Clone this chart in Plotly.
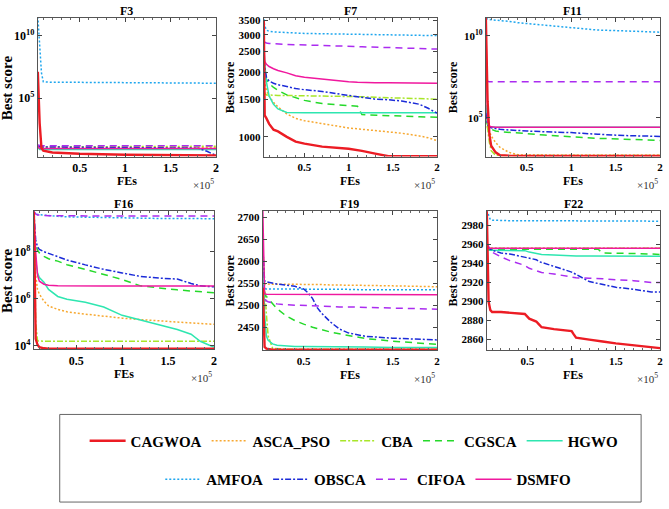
import plotly.graph_objects as go

W, H = 669, 509

ALGOS = ["CAGWOA", "ASCA_PSO", "CBA", "CGSCA", "HGWO", "AMFOA", "OBSCA", "CIFOA", "DSMFO"]
COLORS = ["#ec1c24", "#f7a830", "#a8e629", "#25d92a", "#2ee6b0", "#1ea6ee", "#1b2bd8", "#ab2cf0", "#f0189e"]
DASHES = ["solid", "2px,2px", "6px,2px,2px,2px", "7px,5px", "solid", "2px,2px", "6px,2px,2px,2px", "7px,5px", "solid"]
WIDTHS = [2.4, 1.5, 1.5, 1.5, 1.5, 1.5, 1.5, 1.5, 1.5]

# ---------------- F3 (log scale) ----------------
F3_X = [0.04, 0.06, 0.08, 0.1, 0.2, 0.5, 1.0, 1.5, 1.8, 1.9, 2.0]
F3_CAGWOA = [10**7.1, 10**3.0, 10**1.0, 10**0.8, 10**0.65, 10**0.55, 10**0.48, 10**0.45, 10**0.44, 10**0.43, 10**0.42]
F3_ASCA_PSO = [10**1.15, 10**1.1, 10**1.1, 10**1.1, 10**1.1, 10**1.1, 10**1.08, 10**1.07, 10**1.06, 10**1.05, 10**1.05]
F3_CBA = [10**1.15, 10**1.1, 10**1.1, 10**1.1, 10**1.1, 10**1.1, 10**1.1, 10**1.1, 10**1.12, 10**1.14, 10**1.15]
F3_CGSCA = [10**1.1, 10**0.95, 10**0.95, 10**0.95, 10**0.94, 10**0.94, 10**0.93, 10**0.93, 10**0.93, 10**0.93, 10**0.93]
F3_HGWO = [10**1.05, 10**0.9, 10**0.9, 10**0.9, 10**0.9, 10**0.9, 10**0.9, 10**0.9, 10**0.9, 10**0.9, 10**0.9]
F3_AMFOA = [10**11.5, 10**9.5, 10**7.0, 10**6.3, 10**6.25, 10**6.25, 10**6.22, 10**6.2, 10**6.2, 10**6.19, 10**6.18]
F3_OBSCA = [10**1.15, 10**1.1, 10**1.1, 10**1.1, 10**1.08, 10**1.07, 10**1.05, 10**1.03, 10**1.0, 10**0.75, 10**0.42]
F3_CIFOA = [10**1.25, 10**1.2, 10**1.2, 10**1.2, 10**1.2, 10**1.2, 10**1.2, 10**1.2, 10**1.2, 10**1.2, 10**1.2]
F3_DSMFO = [10**1.15, 10**0.98, 10**0.97, 10**0.97, 10**0.97, 10**0.97, 10**0.97, 10**0.97, 10**0.97, 10**0.97, 10**0.97]

# ---------------- F7 (log scale) ----------------
F7_X = [0.04, 0.05, 0.07, 0.1, 0.15, 0.2, 0.3, 0.4, 0.5, 0.7, 1.0, 1.1, 1.15, 1.3, 1.45, 1.6, 1.8, 1.9, 2.0]
F7_CAGWOA = [3500, 1260, 1220, 1150, 1080, 1060, 1000, 950, 930, 900, 880, 870, 860, 835, 812, 812, 812, 812, 812]
F7_ASCA_PSO = [2000, 1800, 1650, 1550, 1450, 1380, 1280, 1220, 1190, 1150, 1100, 1090, 1085, 1070, 1050, 1040, 1010, 990, 960]
F7_CBA = [2100, 1600, 1570, 1565, 1565, 1562, 1560, 1558, 1556, 1553, 1550, 1545, 1540, 1530, 1525, 1520, 1510, 1505, 1500]
F7_CGSCA = [2500, 1950, 1850, 1780, 1700, 1650, 1570, 1520, 1480, 1430, 1400, 1390, 1270, 1260, 1255, 1250, 1240, 1235, 1235]
F7_HGWO = [2700, 2200, 1800, 1550, 1420, 1350, 1300, 1296, 1295, 1295, 1295, 1295, 1295, 1295, 1295, 1295, 1295, 1295, 1295]
F7_AMFOA = [3550, 3300, 3150, 3110, 3090, 3080, 3060, 3050, 3040, 3030, 3020, 3015, 3010, 3000, 2995, 2990, 2980, 2975, 2970]
F7_OBSCA = [2600, 2100, 1900, 1820, 1780, 1750, 1720, 1680, 1660, 1630, 1560, 1540, 1530, 1500, 1490, 1470, 1420, 1360, 1290]
F7_CIFOA = [2780, 2760, 2745, 2730, 2720, 2710, 2700, 2695, 2690, 2670, 2650, 2640, 2635, 2620, 2610, 2600, 2585, 2575, 2570]
F7_DSMFO = [2900, 2250, 2180, 2130, 2080, 2040, 1990, 1930, 1900, 1860, 1810, 1800, 1795, 1790, 1787, 1785, 1782, 1780, 1780]

# ---------------- F11 (log scale) ----------------
F11_X = [0.04, 0.06, 0.08, 0.1, 0.15, 0.2, 0.3, 0.4, 0.5, 0.7, 1.0, 1.3, 1.6, 2.0]
F11_CAGWOA = [10**11.2, 10**6.0, 10**4.0, 10**3.3, 10**2.9, 10**2.72, 10**2.7, 10**2.69, 10**2.69, 10**2.68, 10**2.68, 10**2.68, 10**2.68, 10**2.68]
F11_ASCA_PSO = [10**5.0, 10**4.4, 10**4.2, 10**3.9, 10**3.5, 10**3.2, 10**2.9, 10**2.75, 10**2.73, 10**2.72, 10**2.72, 10**2.72, 10**2.72, 10**2.72]
F11_CBA = [10**5.2, 10**4.2, 10**3.5, 10**3.0, 10**2.72, 10**2.71, 10**2.71, 10**2.71, 10**2.71, 10**2.71, 10**2.71, 10**2.71, 10**2.71, 10**2.71]
F11_CGSCA = [10**5.6, 10**4.6, 10**4.35, 10**4.3, 10**4.2, 10**4.15, 10**4.1, 10**4.07, 10**4.04, 10**3.95, 10**3.85, 10**3.75, 10**3.7, 10**3.62]
F11_HGWO = [10**5.8, 10**4.6, 10**4.45, 10**4.43, 10**4.42, 10**4.42, 10**4.42, 10**4.42, 10**4.42, 10**4.42, 10**4.42, 10**4.42, 10**4.42, 10**4.42]
F11_AMFOA = [10**11.05, 10**11.0, 10**11.0, 10**10.98, 10**10.96, 10**10.95, 10**10.88, 10**10.8, 10**10.75, 10**10.65, 10**10.5, 10**10.35, 10**10.3, 10**10.22]
F11_OBSCA = [10**5.3, 10**4.6, 10**4.45, 10**4.4, 10**4.35, 10**4.3, 10**4.26, 10**4.22, 10**4.2, 10**4.15, 10**4.1, 10**4.0, 10**3.92, 10**3.87]
F11_CIFOA = [10**7.25, 10**7.2, 10**7.2, 10**7.2, 10**7.2, 10**7.2, 10**7.2, 10**7.2, 10**7.2, 10**7.2, 10**7.2, 10**7.2, 10**7.2, 10**7.2]
F11_DSMFO = [10**11.1, 10**4.8, 10**4.5, 10**4.45, 10**4.43, 10**4.42, 10**4.42, 10**4.42, 10**4.42, 10**4.42, 10**4.42, 10**4.42, 10**4.42, 10**4.42]

# ---------------- F16 (log scale) ----------------
F16_X = [0.04, 0.06, 0.08, 0.1, 0.15, 0.2, 0.3, 0.4, 0.6, 0.8, 1.0, 1.2, 1.4, 1.6, 1.75, 1.85, 1.95, 2.0]
F16_CAGWOA = [10**9.7, 10**4.3, 10**4.05, 10**3.95, 10**3.9, 10**3.88, 10**3.88, 10**3.88, 10**3.88, 10**3.88, 10**3.88, 10**3.88, 10**3.88, 10**3.88, 10**3.88, 10**3.88, 10**3.88, 10**3.88]
F16_ASCA_PSO = [10**8.5, 10**7.0, 10**6.4, 10**6.2, 10**5.9, 10**5.7, 10**5.55, 10**5.45, 10**5.35, 10**5.25, 10**5.18, 10**5.12, 10**5.06, 10**5.0, 10**4.97, 10**4.95, 10**4.93, 10**4.92]
F16_CBA = [10**9.5, 10**5.0, 10**4.22, 10**4.21, 10**4.2, 10**4.2, 10**4.2, 10**4.2, 10**4.2, 10**4.2, 10**4.2, 10**4.2, 10**4.2, 10**4.2, 10**4.2, 10**4.2, 10**4.2, 10**4.2]
F16_CGSCA = [10**9.2, 10**8.3, 10**8.07, 10**7.95, 10**7.8, 10**7.7, 10**7.6, 10**7.45, 10**7.25, 10**7.05, 10**6.82, 10**6.55, 10**6.45, 10**6.38, 10**6.33, 10**6.3, 10**6.27, 10**6.26]
F16_HGWO = [10**9.0, 10**7.6, 10**7.1, 10**6.9, 10**6.7, 10**6.4, 10**6.1, 10**5.98, 10**5.85, 10**5.65, 10**5.3, 10**5.1, 10**4.9, 10**4.7, 10**4.5, 10**4.2, 10**4.03, 10**3.95]
F16_AMFOA = [10**9.7, 10**9.6, 10**9.58, 10**9.57, 10**9.55, 10**9.53, 10**9.5, 10**9.48, 10**9.46, 10**9.44, 10**9.43, 10**9.42, 10**9.41, 10**9.41, 10**9.4, 10**9.4, 10**9.4, 10**9.4]
F16_OBSCA = [10**9.7, 10**8.5, 10**8.2, 10**8.1, 10**8.0, 10**7.93, 10**7.8, 10**7.65, 10**7.44, 10**7.25, 10**7.1, 10**6.95, 10**6.88, 10**6.84, 10**6.65, 10**6.55, 10**6.52, 10**6.51]
F16_CIFOA = [10**9.7, 10**9.6, 10**9.56, 10**9.55, 10**9.54, 10**9.53, 10**9.53, 10**9.52, 10**9.52, 10**9.52, 10**9.52, 10**9.52, 10**9.52, 10**9.52, 10**9.52, 10**9.52, 10**9.52, 10**9.52]
F16_DSMFO = [10**9.7, 10**8.0, 10**7.0, 10**6.75, 10**6.62, 10**6.58, 10**6.56, 10**6.55, 10**6.55, 10**6.54, 10**6.54, 10**6.54, 10**6.54, 10**6.54, 10**6.54, 10**6.54, 10**6.54, 10**6.54]

# ---------------- F19 (linear scale) ----------------
F19_X = [0.04, 0.05, 0.06, 0.08, 0.1, 0.15, 0.2, 0.3, 0.4, 0.5, 0.55, 0.6, 0.65, 0.7, 0.8, 0.9, 1.0, 1.2, 1.5, 2.0]
F19_CAGWOA = [2540, 2430, 2405, 2401, 2400, 2399, 2399, 2399, 2399, 2399, 2399, 2399, 2399, 2399, 2399, 2399, 2399, 2399, 2399, 2399]
F19_ASCA_PSO = [2640, 2550, 2548, 2548, 2548, 2548, 2548, 2547, 2547, 2547, 2547, 2547, 2547, 2547, 2546, 2546, 2546, 2545, 2544, 2542]
F19_CBA = [2640, 2560, 2540, 2480, 2430, 2402, 2401, 2400, 2400, 2400, 2400, 2400, 2400, 2400, 2400, 2400, 2400, 2400, 2400, 2400]
F19_CGSCA = [2640, 2560, 2525, 2520, 2515, 2505, 2492, 2476, 2465, 2457, 2453, 2450, 2447, 2444, 2439, 2435, 2431, 2424, 2418, 2411]
F19_HGWO = [2600, 2560, 2480, 2430, 2420, 2412, 2409, 2407, 2406, 2406, 2406, 2406, 2405, 2405, 2405, 2405, 2405, 2405, 2404, 2404]
F19_AMFOA = [2545, 2540, 2538, 2537, 2537, 2537, 2537, 2537, 2537, 2536, 2536, 2536, 2536, 2536, 2536, 2536, 2536, 2535, 2535, 2535]
F19_OBSCA = [2630, 2590, 2555, 2553, 2552, 2550, 2548, 2546, 2543, 2537, 2528, 2515, 2495, 2482, 2462, 2446, 2437, 2429, 2425, 2421]
F19_CIFOA = [2540, 2530, 2515, 2510, 2508, 2505, 2503, 2501, 2500, 2499, 2499, 2498, 2498, 2497, 2497, 2496, 2496, 2495, 2493, 2491]
F19_DSMFO = [2715, 2600, 2526, 2525, 2525, 2525, 2525, 2525, 2525, 2524, 2524, 2524, 2524, 2524, 2524, 2524, 2524, 2524, 2524, 2524]

# ---------------- F22 (linear scale) ----------------
F22_X = [0.04, 0.06, 0.08, 0.1, 0.2, 0.3, 0.47, 0.52, 0.6, 0.63, 0.66, 0.8, 1.0, 1.02, 1.05, 1.2, 1.3, 1.35, 1.5, 1.7, 1.9, 2.0]
F22_CAGWOA = [2995, 2900, 2891, 2889, 2889, 2888, 2887, 2882, 2879, 2876, 2873, 2871, 2869, 2866, 2862, 2860, 2859, 2858, 2856, 2854, 2852, 2851]
F22_ASCA_PSO = [2956, 2956, 2956, 2956, 2956, 2956, 2956, 2956, 2956, 2956, 2956, 2956, 2956, 2956, 2956, 2956, 2956, 2956, 2956, 2956, 2956, 2956]
F22_CBA = [2956, 2956, 2956, 2956, 2956, 2956, 2956, 2956, 2956, 2956, 2956, 2956, 2956, 2956, 2956, 2956, 2956, 2956, 2956, 2956, 2956, 2956]
F22_CGSCA = [2957, 2955, 2955, 2955, 2955, 2955, 2955, 2955, 2955, 2955, 2955, 2955, 2955, 2955, 2955, 2955, 2955, 2951, 2951, 2950.5, 2950, 2949.5]
F22_HGWO = [2955, 2954, 2954, 2954, 2954, 2954, 2953.5, 2952, 2951, 2950, 2949.5, 2949, 2948, 2948, 2948, 2948, 2948, 2948, 2947.8, 2947.6, 2947.5, 2947.5]
F22_AMFOA = [2996, 2990, 2986, 2985.5, 2985, 2985, 2985, 2985, 2985, 2985, 2985, 2985, 2985, 2985, 2985, 2985, 2985, 2985, 2984.8, 2984.6, 2984.5, 2984.5]
F22_OBSCA = [2958, 2956, 2955, 2954, 2951, 2950, 2947, 2946, 2944, 2942, 2941, 2937, 2931, 2930, 2928, 2921, 2919, 2918, 2915, 2913, 2910, 2910]
F22_CIFOA = [2962, 2957, 2954, 2952, 2947, 2943, 2938, 2935, 2932, 2931, 2930.5, 2929, 2926, 2925.5, 2925, 2924.5, 2924.5, 2924, 2923, 2922, 2920, 2920]
F22_DSMFO = [2956, 2956, 2956, 2956, 2956, 2956, 2956, 2956, 2956, 2956, 2956, 2956, 2956, 2956, 2956, 2956, 2956, 2956, 2956, 2956, 2956, 2956]

TITLES = ["F3", "F7", "F11", "F16", "F19", "F22"]
XS = [F3_X, F7_X, F11_X, F16_X, F19_X, F22_X]
YS = [
    [F3_CAGWOA, F3_ASCA_PSO, F3_CBA, F3_CGSCA, F3_HGWO, F3_AMFOA, F3_OBSCA, F3_CIFOA, F3_DSMFO],
    [F7_CAGWOA, F7_ASCA_PSO, F7_CBA, F7_CGSCA, F7_HGWO, F7_AMFOA, F7_OBSCA, F7_CIFOA, F7_DSMFO],
    [F11_CAGWOA, F11_ASCA_PSO, F11_CBA, F11_CGSCA, F11_HGWO, F11_AMFOA, F11_OBSCA, F11_CIFOA, F11_DSMFO],
    [F16_CAGWOA, F16_ASCA_PSO, F16_CBA, F16_CGSCA, F16_HGWO, F16_AMFOA, F16_OBSCA, F16_CIFOA, F16_DSMFO],
    [F19_CAGWOA, F19_ASCA_PSO, F19_CBA, F19_CGSCA, F19_HGWO, F19_AMFOA, F19_OBSCA, F19_CIFOA, F19_DSMFO],
    [F22_CAGWOA, F22_ASCA_PSO, F22_CBA, F22_CGSCA, F22_HGWO, F22_AMFOA, F22_OBSCA, F22_CIFOA, F22_DSMFO],
]

# y-axis settings per panel
Y_TYPES = ["log", "log", "log", "log", "linear", "linear"]
Y_RANGES = [[0.33, 11.4], [2.908, 3.556], [2.64, 11.1], [3.85, 9.74], [2397, 2715], [2848.6, 2995.5]]
Y_TICKVALS = [
    [1e5, 1e10],
    [1000, 1500, 2000, 2500, 3000, 3500],
    [1e5, 1e10],
    [1e4, 1e6, 1e8],
    [2450, 2500, 2550, 2600, 2650, 2700],
    [2860, 2880, 2900, 2920, 2940, 2960, 2980],
]
Y_TICKTEXT = [
    ["10<sup>5</sup>", "10<sup>10</sup>"],
    ["1000", "1500", "2000", "2500", "3000", "3500"],
    ["10<sup>5</sup>", "10<sup>10</sup>"],
    ["10<sup>4</sup>", "10<sup>6</sup>", "10<sup>8</sup>"],
    ["2450", "2500", "2550", "2600", "2650", "2700"],
    ["2860", "2880", "2900", "2920", "2940", "2960", "2980"],
]
X_RANGE = [0.04, 2.0]

# layout boxes in pixels: (left, right, top, bottom)
BOXES = [(38, 217, 14, 155), (265, 439, 14, 155), (488, 663, 14, 155),
         (34, 215, 210, 351), (264, 439, 210, 352), (489, 663, 210, 352)]
YTITLE_X = [7, 231, 455, 7, 231, 455]
BIG = [True, False, False, True, False, False]

FONT = "Liberation Serif"
fig = go.Figure()
annotations = []
layout = dict(width=W, height=H, margin=dict(l=0, r=0, t=0, b=0),
              paper_bgcolor="white", plot_bgcolor="white", showlegend=True)

draw_order = [1, 2, 3, 4, 5, 6, 7, 8, 0]
for p in range(6):
    sfx = "" if p == 0 else str(p + 1)
    l, r, t, b = BOXES[p]
    for k in draw_order:
        show = p == 0
        fig.add_trace(go.Scatter(
            x=XS[p], y=YS[p][k], mode="lines", name=ALGOS[k],
            line=dict(color=COLORS[k], width=WIDTHS[k], dash=DASHES[k]),
            xaxis="x" + sfx, yaxis="y" + sfx, showlegend=show,
            legend="legend" if k < 5 else "legend2",
            legendrank=k + 1,
        ))
    tick_size = 12 if BIG[p] else 11
    layout["xaxis" + sfx] = dict(
        domain=[l / W, r / W], anchor="y" + sfx, range=X_RANGE,
        tick0=0, dtick=0.5, ticks="inside", ticklen=4, tickcolor="#444",
        showline=True, mirror="ticks", linecolor="#555", linewidth=1,
        showgrid=False, zeroline=False,
        tickfont=dict(family=FONT, size=tick_size, color="black", weight="bold"),
        minor=dict(dtick=0.1, tick0=0, ticks="inside", ticklen=2, tickcolor="#666", showgrid=False),
    )
    layout["yaxis" + sfx] = dict(
        domain=[1 - b / H, 1 - t / H], anchor="x" + sfx, type=Y_TYPES[p], range=Y_RANGES[p],
        tickvals=Y_TICKVALS[p], ticktext=Y_TICKTEXT[p],
        ticks="inside", ticklen=4, tickcolor="#444",
        showline=True, mirror="ticks", linecolor="#555", linewidth=1,
        showgrid=False, zeroline=False,
        tickfont=dict(family=FONT, size=tick_size, color="black", weight="bold"),
    )
    cx = (l + r) / 2 / W
    annotations.append(dict(text=TITLES[p], x=cx, y=1 - (t - 7) / H, xref="paper", yref="paper",
                            showarrow=False, xanchor="center", yanchor="middle",
                            font=dict(family=FONT, size=12, color="black", weight="bold")))
    fes_y = b + 25
    annotations.append(dict(text="FEs", x=cx, y=1 - fes_y / H, xref="paper", yref="paper",
                            showarrow=False, xanchor="center", yanchor="middle",
                            font=dict(family=FONT, size=12, color="black", weight="bold")))
    annotations.append(dict(text="×10<sup>5</sup>", x=r / W, y=1 - (b + 28) / H, xref="paper", yref="paper",
                            showarrow=False, xanchor="right", yanchor="middle",
                            font=dict(family=FONT, size=11, color="#333")))
    annotations.append(dict(text="Best score", x=YTITLE_X[p] / W, y=1 - ((t + b) / 2) / H,
                            xref="paper", yref="paper", showarrow=False, textangle=-90,
                            xanchor="center", yanchor="middle",
                            font=dict(family=FONT, size=15 if BIG[p] else 12, color="black", weight="bold")))

layout["annotations"] = annotations
layout["shapes"] = [dict(type="rect", xref="paper", yref="paper",
                         x0=60 / W, x1=644 / W, y0=1 - 506 / H, y1=1 - 417 / H,
                         line=dict(color="#666", width=1), fillcolor="rgba(0,0,0,0)")]
leg_font = dict(family=FONT, size=15, color="black", weight="bold")
layout["legend"] = dict(orientation="h", x=85 / W, y=1 - 444 / H, xanchor="left", yanchor="middle",
                        font=leg_font, bgcolor="rgba(0,0,0,0)", borderwidth=0, itemwidth=36,
                        traceorder="normal")
layout["legend2"] = dict(orientation="h", x=161 / W, y=1 - 483 / H, xanchor="left", yanchor="middle",
                         font=leg_font, bgcolor="rgba(0,0,0,0)", borderwidth=0, itemwidth=36,
                         traceorder="normal")
fig.update_layout(**layout)
fig.write_html("out.html", config={"displayModeBar": False},
               post_script="document.body.style.margin='0';document.body.style.padding='0';"
                           "document.body.style.overflow='hidden';")
